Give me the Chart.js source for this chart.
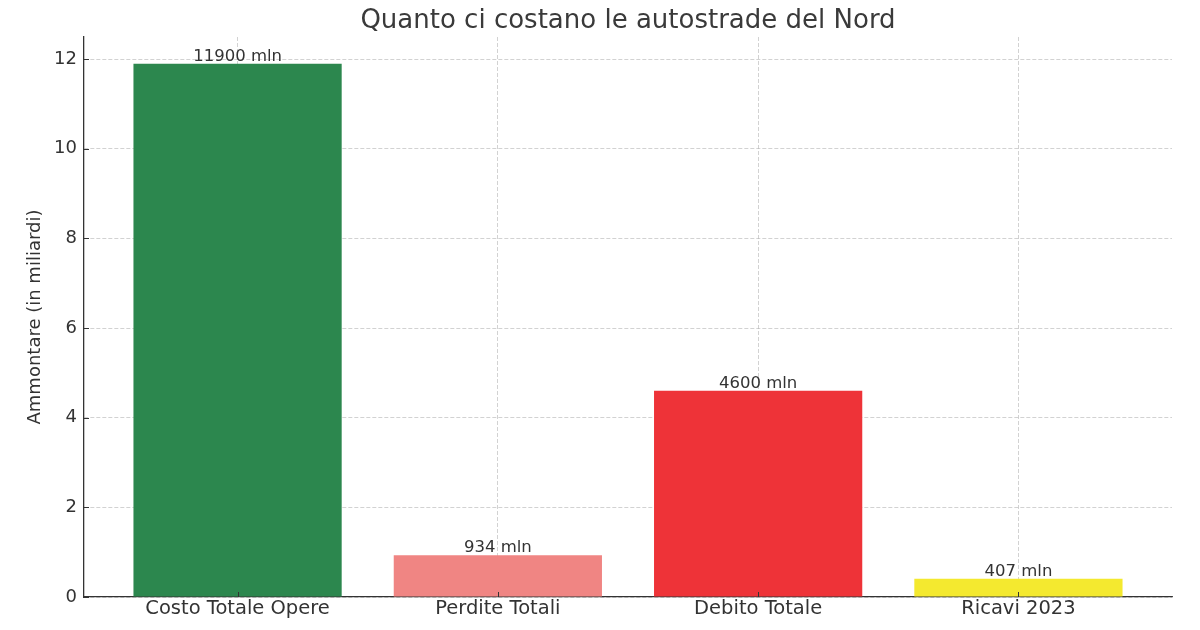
<!DOCTYPE html>
<html>
<head>
<meta charset="utf-8">
<script src="https://cdn.jsdelivr.net/npm/chart.js@4/dist/chart.umd.min.js"></script>
<style>
  html, body { margin: 0; padding: 0; background: #fff; }
  #wrap { width: 1200px; height: 630px; }
</style>
</head>
<body>
<div id="wrap"><canvas id="chart"></canvas></div>
<script>
// Data (billions of euro)
const categories = ['Costo Totale Opere', 'Perdite Totali', 'Debito Totale', 'Ricavi 2023'];
const amounts = [11.9, 0.934, 4.6, 0.407];
const barColors = ['#2c874e', '#f08583', '#ee3338', '#f4e92f'];
const yTicks = [0, 2, 4, 6, 8, 10, 12];
const chartTitle = 'Quanto ci costano le autostrade del Nord';

const FONT = 'DejaVu Sans, Verdana, sans-serif';
const TEXT = '#333333';
const AXIS_LEFT = 84;
const GRID = 'rgba(180,180,180,0.75)';

// title centred over the plot area, value labels above bars,
// small inward tick marks (matplotlib look)
const extrasPlugin = {
  id: 'extras',
  afterDatasetsDraw(chart) {
    const ctx = chart.ctx;
    const meta = chart.getDatasetMeta(0);
    ctx.save();
    ctx.font = '16.5px ' + FONT;
    ctx.fillStyle = TEXT;
    ctx.textAlign = 'center';
    ctx.textBaseline = 'bottom';
    meta.data.forEach((bar, i) => {
      ctx.fillText(Math.round(amounts[i] * 1000) + ' mln', bar.x, bar.y + 1);
    });
    ctx.restore();
  },
  afterDraw(chart) {
    const ctx = chart.ctx;
    const area = chart.chartArea;
    const x = chart.scales.x, y = chart.scales.y;
    ctx.save();
    ctx.font = '26px ' + FONT;
    ctx.fillStyle = '#3a3a3a';
    ctx.textAlign = 'center';
    ctx.textBaseline = 'middle';
    ctx.fillText(chartTitle, (area.left + area.right) / 2, 21);

    ctx.strokeStyle = TEXT;
    ctx.lineWidth = 1;
    yTicks.forEach(v => {
      const py = Math.round(y.getPixelForValue(v)) + 0.5;
      ctx.beginPath();
      ctx.moveTo(area.left, py);
      ctx.lineTo(area.left + 5, py);
      ctx.stroke();
    });
    categories.forEach((c, i) => {
      const px = Math.round(x.getPixelForValue(i)) + 0.5;
      ctx.beginPath();
      ctx.moveTo(px, area.bottom);
      ctx.lineTo(px, area.bottom - 5);
      ctx.stroke();
    });
    ctx.restore();
  }
};

new Chart(document.getElementById('chart'), {
  type: 'bar',
  data: {
    datasets: [{
      data: amounts.map((v, i) => ({ x: i, y: v })),
      backgroundColor: barColors,
      borderWidth: 0,
      barPercentage: 0.8,
      categoryPercentage: 1.0
    }]
  },
  options: {
    responsive: true,
    maintainAspectRatio: false,
    animation: false,
    layout: { padding: { left: 0, right: 28, top: 37, bottom: 0 } },
    plugins: {
      legend: { display: false },
      tooltip: { enabled: false },
      title: { display: false }
    },
    scales: {
      x: {
        type: 'linear',
        min: -0.59,
        max: 3.59,
        offset: false,
        z: 1,
        afterBuildTicks: axis => { axis.ticks = categories.map((c, i) => ({ value: i })); },
        afterFit: axis => { axis.height = 33; },
        ticks: {
          callback: v => categories[v],
          color: TEXT,
          font: { family: FONT, size: 19.5 },
          padding: 0,
          maxRotation: 0,
          autoSkip: false
        },
        grid: {
          offset: false,
          drawTicks: false,
          color: GRID,
          lineWidth: 0.8
        },
        border: { display: true, color: TEXT, width: 1.3, dash: [4, 2] }
      },
      y: {
        min: 0,
        max: 12.495,
        afterFit: axis => { axis.width = AXIS_LEFT; },
        afterBuildTicks: axis => { axis.ticks = yTicks.map(v => ({ value: v })); },
        ticks: {
          color: TEXT,
          font: { family: FONT, size: 18 },
          padding: 7,
          includeBounds: false
        },
        grid: {
          drawTicks: false,
          color: GRID,
          lineWidth: 0.8
        },
        border: { display: true, color: TEXT, width: 1.3, dash: [4, 2] },
        title: {
          display: true,
          text: 'Ammontare (in miliardi)',
          color: TEXT,
          font: { family: FONT, size: 18 },
          padding: { top: 25, bottom: 0 }
        }
      }
    }
  },
  plugins: [extrasPlugin]
});
</script>
</body>
</html>
